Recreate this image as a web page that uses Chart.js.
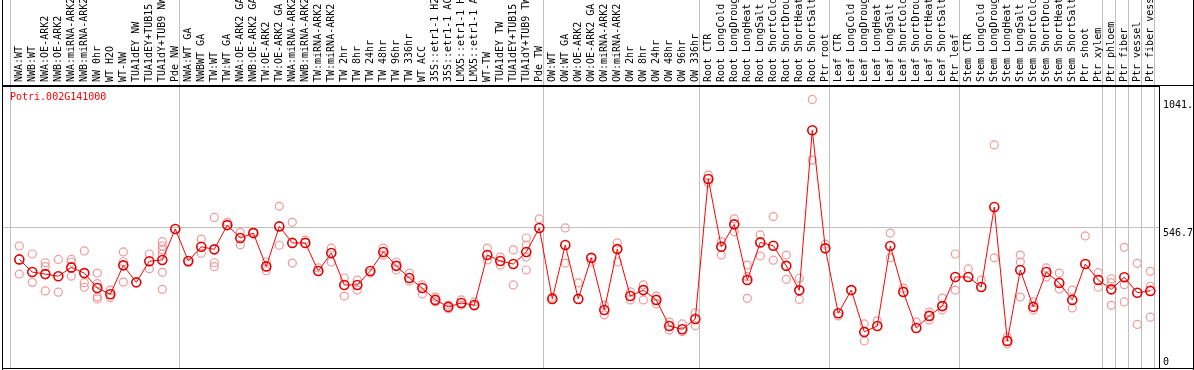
<!DOCTYPE html>
<html>
<head>
<meta charset="utf-8">
<script src="https://cdn.jsdelivr.net/npm/chart.js@4/dist/chart.umd.min.js"></script>
<style>
  html, body { margin: 0; padding: 0; background: #fff; }
  canvas { display: block; }
</style>
</head>
<body>
<canvas id="expr" width="1194" height="370"></canvas>
<script>
// sample names, in plot order
const sampleNames = [
  'NWA:WT', 'NWB:WT', 'NWA:OE-ARK2', 'NWB:OE-ARK2', 'NWA:miRNA-ARK2', 'NWB:miRNA-ARK2', 'NW 0hr', 'WT H2O', 'WT-NW',
  'TUA1dEY NW', 'TUA1dEY+TUB15 NW', 'TUA1dY+TUB9 NW', 'Pde NW',
  'NWA:WT GA', 'NWBWT GA', 'TW:WT', 'TW:WT GA', 'NWA:OE-ARK2 GA', 'NWB:OE-ARK2 GA', 'TW:OE-ARK2', 'TW:OE-ARK2 GA',
  'NWA:miRNA-ARK2', 'NWB:miRNA-ARK2', 'TW:miRNA-ARK2', 'TW:miRNA-ARK2', 'TW 2hr', 'TW 8hr', 'TW 24hr', 'TW 48hr',
  'TW 96hr', 'TW 336hr', 'WT ACC', '35S::etr1-1 H2O', '35S::etr1-1 ACC', 'LMX5::etr1-1 H2O', 'LMX5::etr1-1 ACC',
  'WT-TW', 'TUA1dEY TW', 'TUA1dEY+TUB15 TW', 'TUA1dY+TUB9 TW', 'Pde TW',
  'OW:WT', 'OW:WT GA', 'OW:OE-ARK2', 'OW:OE-ARK2 GA', 'OW:miRNA-ARK2', 'OW:miRNA-ARK2', 'OW 2hr', 'OW 8hr',
  'OW 24hr', 'OW 48hr', 'OW 96hr', 'OW 336hr',
  'Root CTR', 'Root LongCold', 'Root LongDrought', 'Root LongHeat', 'Root LongSalt', 'Root ShortCold',
  'Root ShortDrought', 'Root ShortHeat', 'Root ShortSalt', 'Ptr root',
  'Leaf CTR', 'Leaf LongCold', 'Leaf LongDrought', 'Leaf LongHeat', 'Leaf LongSalt', 'Leaf ShortCold',
  'Leaf ShortDrought', 'Leaf ShortHeat', 'Leaf ShortSalt', 'Ptr leaf',
  'Stem CTR', 'Stem LongCold', 'Stem LongDrought', 'Stem LongHeat', 'Stem LongSalt', 'Stem ShortCold',
  'Stem ShortDrought', 'Stem ShortHeat', 'Stem ShortSalt', 'Ptr shoot',
  'Ptr xylem', 'Ptr phloem', 'Ptr fiber', 'Ptr vessel', 'Ptr fiber vessel'
];

// index of the first sample of each group (and the end)
const groupStarts = [0, 13, 41, 53, 63, 73, 84, 85, 86, 87, 88];

// mean expression per sample
const meanValues = [
  421, 372, 364, 356, 390, 368, 310, 286, 398, 332, 414, 419, 539,
  415, 470, 460, 554, 504, 523, 394, 549, 485, 485, 376, 446, 322, 322, 376, 450,
  396, 349, 310, 264, 237, 252, 244, 438, 415, 403, 450, 543,
  268, 477, 268, 427, 225, 461, 279, 302, 264, 163, 150, 190,
  733, 470, 557, 341, 487, 474, 396, 301, 922, 464,
  212, 302, 140, 163, 473, 295, 155, 202, 240, 353,
  353, 314, 624, 105, 380, 237, 372, 330, 264, 403,
  341, 305, 352, 292, 299
];

// single replicates per sample
const replicateValues = [
  [473, 364], [442, 332], [408, 393, 299], [421, 294], [421, 410, 356], [454, 331, 313],
  [368, 327, 276, 268], [302, 273], [450, 412, 333], [], [442, 385],
  [490, 473, 458, 441, 371, 305], [],
  [408], [500, 445], [584, 408, 393], [565], [526, 478], [528], [411, 377], [627, 476],
  [565, 407], [496], [388], [465, 411], [349, 279], [341, 302], [368], [465, 438],
  [411, 380], [368, 337], [322, 287], [275, 256], [244, 229], [264, 244], [256, 240],
  [465, 419], [430, 399], [458, 322], [504, 477, 430, 380], [578],
  [275], [543, 407], [330], [411], [244, 206], [485, 411], [295, 264], [322, 264],
  [279, 248], [178, 147], [171, 141], [214, 164],
  [748, 718], [490, 438], [578, 528], [399, 354, 270], [516, 434], [587, 418],
  [438, 344], [348, 266], [1041.3, 806], [480],
  [202], [], [171, 105], [183], [523, 427], [310], [178], [217, 186], [271, 225], [442, 302],
  [384], [341], [865, 427], [120, 93], [438, 411, 275], [256, 225], [388, 353], [368, 306],
  [302, 233], [512],
  [370, 313], [346, 331, 243], [468, 323, 256], [406, 169], [375, 317, 197]
];

// right axis marks
const yTickValues = [0, 546.7, 1041.3];
const yTickLabels = ['0', '546.7', '1041.'];
const yMax = 1093.4;
const geneName = 'Potri.002G141000';

const monoFont = { family: "'DejaVu Sans Mono', monospace", size: 10 };
const SEP_SHIFT = 0.64;   // separators sit a bit left of the sample slot

const meanPoints = meanValues.map((v, i) => ({ x: i, y: v }));
const repPoints = [];
replicateValues.forEach((arr, i) => {
  arr.forEach(v => repPoints.push({ x: i, y: v }));
});
const sepValues = groupStarts.map(k => k - SEP_SHIFT);

const framePlugin = {
  id: 'frame',
  afterDraw(chart) {
    const c = chart.ctx;
    const a = chart.chartArea;
    const w = chart.width, h = chart.height;
    c.save();
    c.strokeStyle = '#000';
    c.lineWidth = 1;
    c.beginPath();
    c.moveTo(a.left + 0.5, 0); c.lineTo(a.left + 0.5, h);
    c.moveTo(w - 0.5, 0); c.lineTo(w - 0.5, h);
    c.moveTo(a.left, a.bottom + 0.5); c.lineTo(w, a.bottom + 0.5);
    c.moveTo(a.left, a.top - 0.5); c.lineTo(w, a.top - 0.5);
    c.stroke();
    c.fillStyle = '#ff0000';
    c.font = "10px 'DejaVu Sans Mono', monospace";
    c.textBaseline = 'middle';
    c.fillText(geneName, a.left + 8, a.top + 11);
    c.restore();
  }
};

new Chart(document.getElementById('expr'), {
  type: 'line',
  data: {
    datasets: [
      {
        label: 'mean',
        data: meanPoints,
        borderColor: '#ff0000',
        borderWidth: 1,
        pointRadius: 4.5,
        pointBorderWidth: 1.6,
        pointBorderColor: '#e00000',
        pointBackgroundColor: 'rgba(0,0,0,0)',
        tension: 0
      },
      {
        label: 'replicates',
        data: repPoints,
        showLine: false,
        pointRadius: 4,
        pointBorderWidth: 1.2,
        pointBorderColor: '#f09a9a',
        pointBackgroundColor: 'rgba(0,0,0,0)'
      }
    ]
  },
  options: {
    responsive: false,
    animation: false,
    layout: { autoPadding: false, padding: { left: 2, bottom: 2, top: 0, right: 0 } },
    plugins: { legend: { display: false }, tooltip: { enabled: false } },
    scales: {
      x: {
        type: 'linear',
        position: 'top',
        min: -1.331,
        max: 87.67,
        afterBuildTicks: (s) => {
          const t = sampleNames.map((n, i) => ({ value: i }));
          sepValues.forEach(v => t.push({ value: v }));
          t.sort((p, q) => p.value - q.value);
          s.ticks = t;
        },
        afterFit: (s) => {
          s.height = 86;
          s.paddingLeft = 0; s.paddingRight = 0;
        },
        grid: {
          color: (ctx) => (ctx.tick && sepValues.includes(ctx.tick.value)) ? '#c0c0c0' : 'rgba(0,0,0,0)',
          lineWidth: 1,
          drawTicks: true,
          tickLength: 86
        },
        border: { display: true, color: '#000', width: 1 },
        ticks: {
          autoSkip: false,
          minRotation: 90,
          maxRotation: 90,
          padding: -82,
          labelOffset: 12,
          color: '#000',
          font: monoFont,
          callback: (v) => Number.isInteger(v) ? sampleNames[v] : ''
        }
      },
      y: {
        type: 'linear',
        position: 'right',
        min: 0,
        max: yMax,
        afterBuildTicks: (s) => { s.ticks = yTickValues.map(v => ({ value: v })); },
        afterFit: (s) => {
          s.width = 35;
          s.paddingTop = 0; s.paddingBottom = 0;
        },
        grid: {
          color: (ctx) => (ctx.tick && ctx.tick.value === 546.7) ? '#c0c0c0' : 'rgba(0,0,0,0)',
          drawTicks: false
        },
        border: { display: true, color: '#000', width: 1 },
        ticks: {
          padding: 4,
          color: '#000',
          font: monoFont,
          callback: (v) => {
            const i = yTickValues.indexOf(v);
            const txt = i >= 0 ? yTickLabels[i] : '';
            return v === 0 ? [txt, ''] : ['', txt];
          }
        }
      }
    }
  },
  plugins: [framePlugin]
});
</script>
</body>
</html>
